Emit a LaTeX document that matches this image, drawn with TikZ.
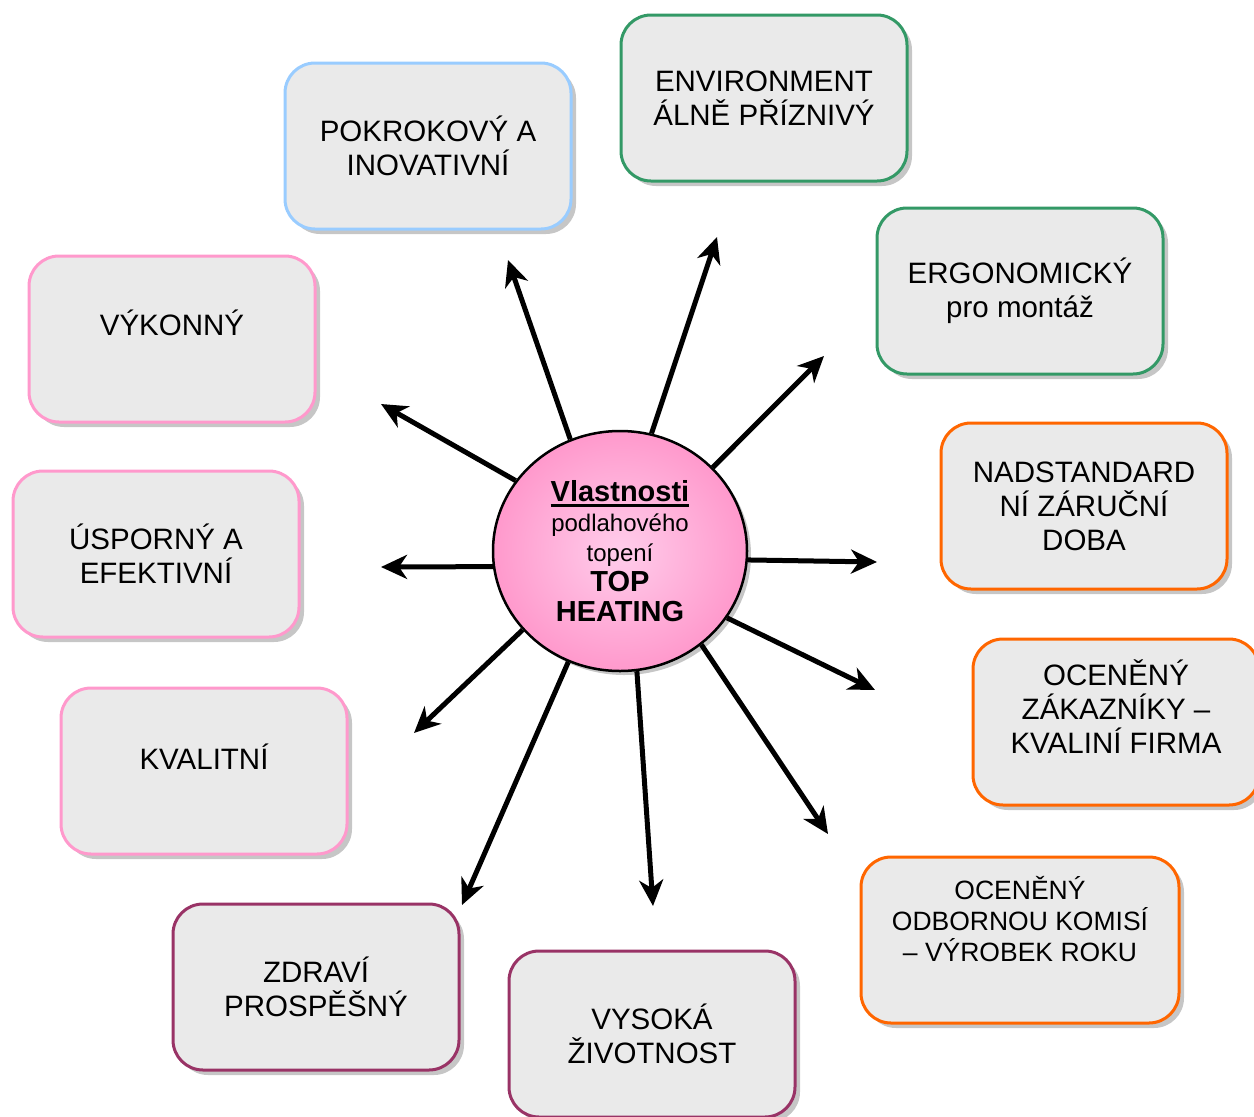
\documentclass[tikz,border=0pt]{standalone}
\usepackage{fontspec}
\setmainfont{Liberation Sans}
\usetikzlibrary{shapes.geometric,shadows,arrows.meta}
\newcommand\HubUnder[1]{\setbox0\hbox{#1}\rlap{\rule[-5.5pt]{\wd0}{2.6pt}}\box0}
\definecolor{BoxGray}{HTML}{EAEAEA}
\definecolor{SkyLine}{HTML}{99CCFF}
\definecolor{GreenLine}{HTML}{339966}
\definecolor{PinkLine}{HTML}{FF99CC}
\definecolor{OrangeLine}{HTML}{FF6600}
\definecolor{PlumLine}{HTML}{993366}
\definecolor{HubLight}{HTML}{FFCDEB}
\tikzset{
  BoxStyle/.style = { rectangle, rounded corners=30pt,
                      draw=#1, line width=3pt, fill=BoxGray,
                      minimum width=286pt, minimum height=166pt,
                      align=center, font=\fontsize{29.5}{34}\selectfont,
                      drop shadow={shadow xshift=5pt, shadow yshift=-5pt, opacity=.45} },
  TextUp/.style   = { text depth=#1 },
  HubStyle/.style = { ellipse, draw, line width=2.5pt, inner sep=0pt,
                      minimum width=254pt, minimum height=240pt,
                      inner color=HubLight, outer color=PinkLine,
                      align=center, font=\fontsize{24}{30}\selectfont,
                      drop shadow={shadow xshift=4pt, shadow yshift=-4pt, opacity=.45} },
  EdgeStyle/.style = { -{Stealth[length=26pt,width=24pt,inset=8pt]}, line width=5pt } }

\begin{document}
\begin{tikzpicture}[x=1pt,y=-1pt]
  \useasboundingbox (0,0) rectangle (1254,1117);
  \clip (0,0) rectangle (1254,1117);
  % boxes round the hub
  \node[BoxStyle=SkyLine](Pokrok) at (428,146) {POKROKOVÝ A\\INOVATIVNÍ};
  \node[BoxStyle=GreenLine](Envi) at (764,98) {ENVIRONMENT\\ÁLNĚ PŘÍZNIVÝ};
  \node[BoxStyle=GreenLine](Ergo) at (1020,291) {ERGONOMICKÝ\\pro montáž};
  \node[BoxStyle=OrangeLine](Zaruka) at (1084,506) {NADSTANDARD\\NÍ ZÁRUČNÍ\\DOBA};
  \node[BoxStyle=OrangeLine,TextUp=30pt](Zakaz) at (1116,722) {OCENĚNÝ\\ZÁKAZNÍKY –\\KVALINÍ FIRMA};
  \node[BoxStyle=OrangeLine,TextUp=42pt,minimum width=318pt,
        font=\fontsize{26.5}{31}\selectfont](Komise) at (1020,940) {OCENĚNÝ\\ODBORNOU KOMISÍ\\– VÝROBEK ROKU};
  \node[BoxStyle=PlumLine](Zivot) at (652,1034) {VYSOKÁ\\ŽIVOTNOST};
  \node[BoxStyle=PlumLine](Zdravi) at (316,987) {ZDRAVÍ\\PROSPĚŠNÝ};
  \node[BoxStyle=PinkLine,TextUp=28pt](Kvalita) at (204,771) {KVALITNÍ};
  \node[BoxStyle=PinkLine](Uspora) at (156,554) {ÚSPORNÝ A\\EFEKTIVNÍ};
  \node[BoxStyle=PinkLine,TextUp=32pt](Vykon) at (172,339) {VÝKONNÝ};
  % hub
  \node[HubStyle](Hub) at (620,551) {{\bfseries\fontsize{29}{30}\selectfont\HubUnder{Vlastnosti}}\\
    podlahového\\topení\\{\bfseries\fontsize{29}{30}\selectfont TOP}\\
    {\bfseries\fontsize{29}{30}\selectfont HEATING}};
  % free arrow ends
  \coordinate (tPokrok) at (508,260);
  \coordinate (tEnvi) at (717,237);
  \coordinate (tErgo) at (824,356);
  \coordinate (tZaruka) at (877,562);
  \coordinate (tZakaz) at (875,690);
  \coordinate (tKomise) at (828,834);
  \coordinate (tZivot) at (653,906);
  \coordinate (tZdravi) at (462,905);
  \coordinate (tKvalita) at (414,733);
  \coordinate (tUspora) at (381,567);
  \coordinate (tVykon) at (381,404);
  \draw[EdgeStyle] (Hub.114.6) -- (tPokrok);
  \draw[EdgeStyle] (Hub.75.7) -- (tEnvi);
  \draw[EdgeStyle] (Hub.42.5) -- (tErgo);
  \draw[EdgeStyle] (Hub.-4.9) -- (tZaruka);
  \draw[EdgeStyle] (Hub.-32.1) -- (tZakaz);
  \draw[EdgeStyle] (Hub.-49.2) -- (tKomise);
  \draw[EdgeStyle] (Hub.-82.5) -- (tZivot);
  \draw[EdgeStyle] (Hub.245.6) -- (tZdravi);
  \draw[EdgeStyle] (Hub.219) -- (tKvalita);
  \draw[EdgeStyle] (Hub.187) -- (tUspora);
  \draw[EdgeStyle] (Hub.146.9) -- (tVykon);
\end{tikzpicture}
\end{document}
